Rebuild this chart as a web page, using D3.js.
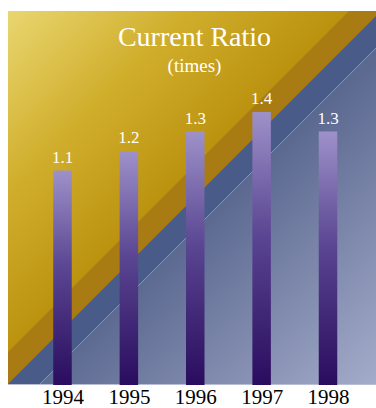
<!DOCTYPE html>
<html>
<head>
<meta charset="utf-8">
<script src="https://cdn.jsdelivr.net/npm/d3@7"></script>
<style>
  body { margin: 0; background: #fff; }
  svg { display: block; }
</style>
</head>
<body>
<div class="container"></div>
<script>
var width = 376;
var height = 408;

// data
var years = ['1994', '1995', '1996', '1997', '1998'];
var ratios = [1.1, 1.2, 1.3, 1.4, 1.3];
var ratioLabels = ['1.1', '1.2', '1.3', '1.4', '1.3'];

// panel box
var panelLeft = 8, panelTop = 11, panelRight = 376, panelBottom = 385;
var barWidth = 18.5;

var XScale = d3.scalePoint()
    .domain(years)
    .range([62.5, 328]);

var YScale = d3.scaleLinear()
    .domain([0, 1.4])
    .range([panelBottom, 112]);

var svg = d3.select('.container').append('svg')
    .attr('width', width)
    .attr('height', height);

var defs = svg.append('defs');

defs.append('clipPath').attr('id', 'panel')
  .append('rect')
    .attr('x', panelLeft).attr('y', panelTop)
    .attr('width', panelRight - panelLeft).attr('height', panelBottom - panelTop);

var addGrad = function(id, x1, y1, x2, y2, stops, units) {
    var g = defs.append('linearGradient')
        .attr('id', id)
        .attr('x1', x1).attr('y1', y1).attr('x2', x2).attr('y2', y2);
    if (units) g.attr('gradientUnits', units);
    stops.forEach(function(s) {
        g.append('stop').attr('offset', s[0]).attr('stop-color', s[1]);
    });
};

addGrad('goldGrad', panelLeft, panelTop, 190, 190,
    [[0, '#e9d670'], [0.5, '#d0ae2c'], [1, '#b88f0c']], 'userSpaceOnUse');
addGrad('darkGoldGrad', 100, 100, 300, 300,
    [[0, '#ad7f14'], [1, '#a47612']], 'userSpaceOnUse');
addGrad('blueGrad', 100, 100, 300, 300,
    [[0, '#4b5d8a'], [1, '#475986']], 'userSpaceOnUse');
addGrad('lowGrad', 212, 212, 376, 385,
    [[0, '#5b6890'], [1, '#a4acca']], 'userSpaceOnUse');
addGrad('barGrad', 0, 0, 0, 1,
    [[0, '#9e91c9'], [0.45, '#5a4692'], [1, '#2a0c5e']]);

var bg = svg.append('g').attr('clip-path', 'url(#panel)');

// diagonal bands where x + y >= c
var band = function(c) {
    return [[c - panelBottom, panelBottom], [panelRight + 40, c - panelRight - 40],
            [panelRight + 40, panelBottom + 40], [c - panelBottom - 40, panelBottom + 40]]
        .map(function(p) { return p.join(','); }).join(' ');
};

bg.append('rect')
    .attr('x', panelLeft).attr('y', panelTop)
    .attr('width', panelRight - panelLeft).attr('height', panelBottom - panelTop)
    .attr('fill', 'url(#goldGrad)');
bg.append('polygon').attr('points', band(360)).attr('fill', 'url(#darkGoldGrad)');
bg.append('polygon').attr('points', band(392)).attr('fill', 'url(#blueGrad)');
bg.append('polygon').attr('points', band(424)).attr('fill', 'url(#lowGrad)');
bg.append('line')
    .attr('x1', 424 - panelBottom).attr('y1', panelBottom)
    .attr('x2', panelRight).attr('y2', 424 - panelRight)
    .attr('stroke', '#b4bad8').attr('stroke-opacity', 0.7).attr('stroke-width', 0.8);
bg.append('line')
    .attr('x1', panelLeft).attr('y1', panelBottom - 0.5)
    .attr('x2', panelRight).attr('y2', panelBottom - 0.5)
    .attr('stroke', '#b8bed6').attr('stroke-width', 1);

// bars
svg.append('g').selectAll('rect')
    .data(ratios)
    .enter().append('rect')
    .attr('x', function(d, i) { return XScale(years[i]) - barWidth / 2; })
    .attr('y', function(d) { return YScale(d); })
    .attr('width', barWidth)
    .attr('height', function(d) { return panelBottom - YScale(d); })
    .attr('fill', 'url(#barGrad)');

// value labels
svg.append('g').selectAll('text')
    .data(ratios)
    .enter().append('text')
    .attr('x', function(d, i) { return XScale(years[i]); })
    .attr('y', function(d) { return YScale(d) - 8; })
    .attr('text-anchor', 'middle')
    .attr('font-family', 'Liberation Serif, serif')
    .attr('font-size', 17)
    .attr('fill', '#fff')
    .text(function(d, i) { return ratioLabels[i]; });

// titles
svg.append('text')
    .attr('x', 194.5).attr('y', 46)
    .attr('text-anchor', 'middle')
    .attr('font-family', 'Liberation Serif, serif')
    .attr('font-size', 28)
    .attr('fill', '#fff')
    .text('Current Ratio');

svg.append('text')
    .attr('x', 194.5).attr('y', 72)
    .attr('text-anchor', 'middle')
    .attr('font-family', 'Liberation Serif, serif')
    .attr('font-size', 19)
    .attr('fill', '#fff')
    .text('(times)');

// year axis
var xAxis = d3.axisBottom(XScale).tickSize(0).tickPadding(4);
var ax = svg.append('g')
    .attr('transform', 'translate(0,' + panelBottom + ')')
    .call(xAxis);
ax.select('.domain').remove();
ax.selectAll('text')
    .attr('font-family', 'Liberation Serif, serif')
    .attr('font-size', 21)
    .attr('fill', '#000');
</script>
</body>
</html>
